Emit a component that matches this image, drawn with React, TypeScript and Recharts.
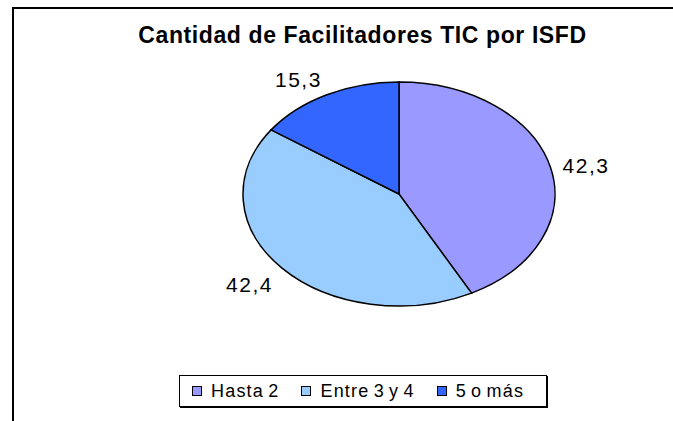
import React from 'react';
import { PieChart, Pie, Cell, Legend } from 'recharts';

const CATEGORIES = ['Hasta 2', 'Entre 3 y 4', '5 o más'];
const VALUES = [42.3, 42.4, 15.3];
const COLORS = ['#9999FF', '#99CCFF', '#3366FF'];
const TITLE = 'Cantidad de Facilitadores TIC por ISFD';

const data = CATEGORIES.map((name, i) => ({ name, value: VALUES[i] }));

// pie is drawn as a circle and stretched horizontally into an ellipse
const CX = 399;
const CY = 194;
const RADIUS = 112;
const SCALE_X = 156 / 112;
const FONT = '"Liberation Sans", Arial, sans-serif';

const fmt = (v: number) => String(v).replace('.', ',');

const renderLabel = (props: any) => {
  const { cx, cy, midAngle, outerRadius, value } = props;
  const rad = Math.PI / 180;
  const cos = Math.cos(-midAngle * rad);
  const sin = Math.sin(-midAngle * rad);
  const px = cx + outerRadius * SCALE_X * cos;
  const py = cy + outerRadius * sin;
  const x = px + cos * 14 + Math.sign(cos) * 22;
  const y = py + sin * 20 + 3;
  return (
    <text
      x={x}
      y={y}
      textAnchor="middle"
      dominantBaseline="central"
      fill="#000"
      style={{ fontFamily: FONT, fontSize: 21, letterSpacing: 1.5 }}
    >
      {fmt(value)}
    </text>
  );
};

const renderLegend = (props: any) => {
  const payload = [...(props.payload || [])].sort(
    (a: any, b: any) => CATEGORIES.indexOf(a.value) - CATEGORIES.indexOf(b.value)
  );
  return (
    <div
      style={{
        boxSizing: 'border-box',
        width: 368,
        height: 32,
        border: '1px solid #000',
        boxShadow: '1px 1px 0 #000',
        background: '#fff',
        display: 'flex',
        alignItems: 'center',
        paddingLeft: 12,
        fontFamily: FONT,
        fontSize: 18,
        letterSpacing: 1.2,
        wordSpacing: -2,
        whiteSpace: 'nowrap',
        color: '#000',
      }}
    >
      {payload.map((entry: any, i: number) => (
        <div key={`leg-${i}`} style={{ display: 'flex', alignItems: 'center', flexShrink: 0, marginRight: 22 }}>
          <span
            style={{
              display: 'inline-block',
              width: 8,
              height: 8,
              background: entry.color,
              border: '1px solid #000',
              marginRight: 9,
            }}
          />
          <span>{entry.value}</span>
        </div>
      ))}
    </div>
  );
};

export default function App() {
  return (
    <div style={{ position: 'absolute', left: 0, top: 0, width: 673, height: 421, overflow: 'hidden', background: '#fff' }}>
      <style>{`
        html, body { margin: 0; overflow: hidden; }
        .recharts-pie-sector path {
          transform: scaleX(${SCALE_X});
          transform-origin: ${CX}px ${CY}px;
          transform-box: view-box;
          vector-effect: non-scaling-stroke;
        }
      `}</style>
      <div
        style={{
          position: 'absolute',
          left: 12,
          top: 7,
          width: 661,
          height: 414,
          boxSizing: 'border-box',
          borderTop: '2px solid #000',
          borderLeft: '2px solid #000',
        }}
      />
      <div
        style={{
          position: 'absolute',
          left: 0,
          width: 725,
          top: 22,
          textAlign: 'center',
          fontFamily: FONT,
          fontWeight: 'bold',
          fontSize: 23,
          letterSpacing: 0.6,
          color: '#000',
        }}
      >
        {TITLE}
      </div>
      <PieChart width={673} height={421} margin={{ top: 0, right: 0, bottom: 0, left: 0 }}>
        <Pie
          data={data}
          dataKey="value"
          nameKey="name"
          cx={CX}
          cy={CY}
          outerRadius={RADIUS}
          startAngle={90}
          endAngle={-270}
          stroke="#000"
          strokeWidth={1.5}
          label={renderLabel}
          labelLine={false}
          isAnimationActive={false}
        >
          {data.map((entry, index) => (
            <Cell key={`cell-${index}`} fill={COLORS[index % COLORS.length]} />
          ))}
        </Pie>
        <Legend
          content={renderLegend}
          wrapperStyle={{ left: 179, top: 375, width: 368, bottom: 'auto' }}
        />
      </PieChart>
    </div>
  );
}
